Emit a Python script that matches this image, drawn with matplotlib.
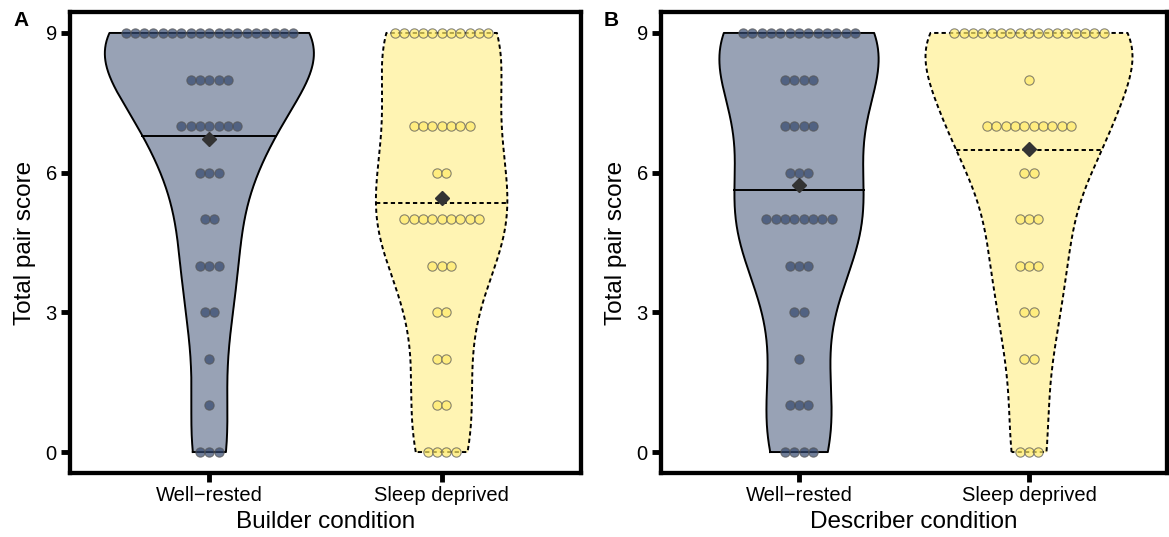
import numpy as np
import matplotlib.pyplot as plt

plt.rcParams['font.family'] = ['Liberation Sans', 'DejaVu Sans']

# number of pairs at each total pair score 0..9
scores = np.arange(10)
builder_rested = [3, 1, 1, 2, 3, 2, 3, 7, 5, 19]
builder_deprived = [4, 2, 2, 2, 3, 9, 2, 7, 0, 11]
describer_rested = [4, 3, 1, 2, 3, 8, 3, 4, 4, 13]
describer_deprived = [3, 0, 2, 2, 3, 3, 2, 10, 1, 17]

conditions = ['Well\u2212rested', 'Sleep deprived']
panels = [('A', 'Builder condition', builder_rested, builder_deprived),
          ('B', 'Describer condition', describer_rested, describer_deprived)]

navy = '#33476d'
yellow = '#ffeb69'


def bw_nrd0(x):
    sd = np.std(x, ddof=1)
    q75, q25 = np.percentile(x, [75, 25])
    lo = min(sd, (q75 - q25) / 1.34)
    if lo == 0:
        lo = sd
    return 0.9 * lo * len(x) ** -0.2


def density(x, n=512):
    bw = bw_nrd0(x)
    grid = np.linspace(x.min(), x.max(), n)
    z = (grid[:, None] - x[None, :]) / bw
    d = np.exp(-0.5 * z ** 2).sum(1) / (len(x) * bw * np.sqrt(2 * np.pi))
    return grid, d


W, H = 1169, 537
fig = plt.figure(figsize=(W / 100, H / 100), dpi=100)

# axes boxes in pixels: left, right, top, bottom
boxes = [(70, 581, 12, 473), (661, 1167, 12, 473)]

for (letter, xlab, rested, deprived), (l, r, t, b) in zip(panels, boxes):
    ax = fig.add_axes([l / W, 1 - b / H, (r - l) / W, (b - t) / H])
    ax.set_xlim(0.4, 2.6)
    ax.set_ylim(-0.45, 9.45)

    data = [np.repeat(scores, rested).astype(float),
            np.repeat(scores, deprived).astype(float)]
    dens = [density(x) for x in data]
    dmax = max(d.max() for _, d in dens)

    px_x = (r - l) / 2.2
    px_y = (b - t) / 9.9
    binwidth = 0.2
    diam_px = binwidth * px_y
    dx = diam_px / px_x
    ms = diam_px * 72 / 100

    for i, (x, (grid, d)) in enumerate(zip(data, dens)):
        pos = i + 1
        hw = d / dmax * 0.45
        fill = navy if i == 0 else yellow
        ls = '-' if i == 0 else (0, (2.2, 1.6))
        ax.fill_betweenx(grid, pos - hw, pos + hw, color=fill, alpha=0.5,
                         lw=0, zorder=1)
        ox = np.concatenate([pos - hw, (pos + hw)[::-1], [pos - hw[0]]])
        oy = np.concatenate([grid, grid[::-1], [grid[0]]])
        ax.plot(ox, oy, color='black', lw=1.4, ls=ls, zorder=2)

        # median of the density estimate
        ecdf = np.cumsum(d) / d.sum()
        yq = np.interp(0.5, ecdf, grid)
        wq = np.interp(yq, grid, hw)
        ax.plot([pos - wq, pos + wq], [yq, yq], color='black', lw=1.4,
                ls=ls, zorder=2)

        counts = rested if i == 0 else deprived
        for s, c in zip(scores, counts):
            if c == 0:
                continue
            xs = pos + (np.arange(c) - (c - 1) / 2) * dx
            ax.plot(xs, np.full(c, s), 'o', ms=ms, mfc=fill, alpha=0.7,
                    mec='#555555', mew=0.8, zorder=3)

        ax.plot(pos, x.mean(), 'D', ms=7, color='#333333', zorder=4)

    for sp in ax.spines.values():
        sp.set_linewidth(3.1)
    ax.set_xticks([1, 2])
    ax.set_xticklabels(conditions)
    ax.set_yticks([0, 3, 6, 9])
    ax.tick_params(length=6.5, width=3.5, labelsize=14.5, pad=3)
    ax.set_xlabel(xlab, fontsize=17.5, labelpad=4)
    ax.set_ylabel('Total pair score', fontsize=17.5, labelpad=7)
    fig.text((l - 57) / W, 1 - 20 / H, letter, fontsize=15, fontweight='bold',
             va='center', ha='left')

fig.savefig('out.png', dpi=100)
